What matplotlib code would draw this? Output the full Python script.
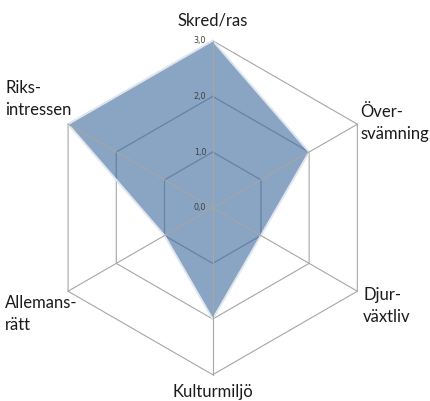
import numpy as np
import matplotlib.pyplot as plt

categories = ["Skred/ras", "Över-\nsvämning", "Djur-\nväxtliv", "Kulturmiljö", "Allemans-\nrätt", "Riks-\nintressen"]
values = [3, 2, 1, 2, 1, 3]
levels = [1, 2, 3]
tick_labels = ["0,0", "1,0", "2,0", "3,0"]

plt.rcParams['font.family'] = ['Lato', 'DejaVu Sans']

angles = np.deg2rad(90 - 60 * np.arange(len(categories)))
ca, sa = np.cos(angles), np.sin(angles)

fig = plt.figure(figsize=(4.31, 4.01), dpi=100)
ax = fig.add_axes([0, 0, 1, 1])
ax.set_xlim(-3.821, 3.921)
ax.set_ylim(-3.472, 3.731)
ax.set_aspect('equal')
ax.axis('off')

grid_col = '#a6a6a6'

v = np.array(values, dtype=float)
poly = ax.fill(v * ca, v * sa, facecolor='#6d8db5', alpha=0.8, edgecolor='none', zorder=2)[0]

# rings: light outside, darker seen through the fill
for lv in levels:
    xs = np.append(lv * ca, lv * ca[0])
    ys = np.append(lv * sa, lv * sa[0])
    ax.plot(xs, ys, color=grid_col, lw=0.8, zorder=0)
    inner, = ax.plot(xs, ys, color='#4a5a70', lw=0.8, zorder=1)
    inner.set_clip_path(poly)

ax.plot(np.append(v * ca, v[0] * ca[0]), np.append(v * sa, v[0] * sa[0]),
        color='#dfe6ef', lw=1.4, zorder=3)

# spokes on top
for c, s in zip(ca, sa):
    ax.plot([0, 3 * c], [0, 3 * s], color=grid_col, lw=0.8, zorder=4)

for i, t in enumerate(tick_labels):
    ax.text(-0.12, i, t, ha='right', va='center', fontsize=5.8, color='#404040',
            family='DejaVu Sans', zorder=5)

txt = dict(fontsize=12, color='#1a1a1a', linespacing=1.45)
ax.text(0, 3.37, categories[0], ha='center', va='center', **txt)
ax.text(2.646, 1.52, categories[1], ha='left', va='center', **txt)
ax.text(2.705, -1.77, categories[2], ha='left', va='center', **txt)
ax.text(0, -3.31, categories[3], ha='center', va='center', **txt)
ax.text(-3.73, -1.91, categories[4], ha='left', va='center', **txt)
ax.text(-3.73, 1.95, categories[5], ha='left', va='center', **txt)

fig.savefig('out.png', dpi=100)
